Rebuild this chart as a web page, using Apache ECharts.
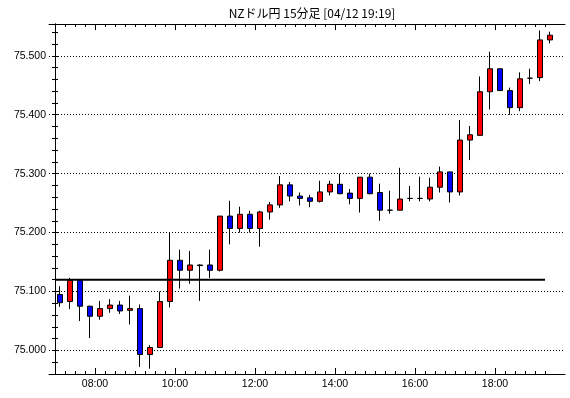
<!DOCTYPE html>
<html>
<head>
<meta charset="utf-8">
<script src="https://cdn.jsdelivr.net/npm/echarts@6/dist/echarts.min.js"></script>
<style>
html, body { margin: 0; padding: 0; background: #fff; }
#chart { width: 570px; height: 398px; }
</style>
</head>
<body>
<div id="chart"></div>
<script>
// NZドル円 15分足
var times = ['07:00','07:15','07:30','07:45','08:00','08:15','08:30','08:45','09:00','09:15',
  '09:30','09:45','10:00','10:15','10:30','10:45','11:00','11:15','11:30','11:45',
  '12:00','12:15','12:30','12:45','13:00','13:15','13:30','13:45','14:00','14:15',
  '14:30','14:45','15:00','15:15','15:30','15:45','16:00','16:15','16:30','16:45',
  '17:00','17:15','17:30','17:45','18:00','18:15','18:30','18:45','19:00','19:15']
var opens = [75.095,75.083,75.119,75.075,75.058,75.071,75.077,75.068,75.071,74.993,
  75.005,75.083,75.153,75.136,75.145,75.145,75.136,75.228,75.207,75.231,
  75.207,75.235,75.247,75.281,75.262,75.259,75.253,75.269,75.282,75.267,
  75.258,75.294,75.268,75.238,75.238,75.258,75.258,75.257,75.277,75.303,
  75.269,75.357,75.365,75.439,75.478,75.441,75.412,75.462,75.463,75.527]
var closes = [75.081,75.119,75.075,75.058,75.071,75.077,75.067,75.071,74.993,75.005,
  75.083,75.153,75.136,75.145,75.144,75.136,75.228,75.207,75.231,75.207,
  75.235,75.247,75.281,75.262,75.258,75.253,75.269,75.282,75.266,75.258,
  75.294,75.266,75.238,75.238,75.257,75.258,75.258,75.277,75.303,75.269,
  75.357,75.366,75.439,75.478,75.441,75.412,75.461,75.462,75.527,75.535]
var lows = [75.074,75.070,75.050,75.021,75.052,75.064,75.062,75.044,74.972,74.969,
  75.005,75.073,75.105,75.113,75.084,75.123,75.134,75.180,75.200,75.200,
  75.176,75.222,75.242,75.253,75.246,75.243,75.251,75.263,75.265,75.248,
  75.234,75.265,75.220,75.232,75.238,75.253,75.253,75.253,75.268,75.251,
  75.263,75.323,75.364,75.409,75.441,75.400,75.406,75.452,75.457,75.521]
var highs = [75.109,75.123,75.120,75.076,75.084,75.087,75.084,75.093,75.078,75.009,
  75.100,75.200,75.171,75.169,75.146,75.171,75.228,75.254,75.244,75.237,
  75.237,75.252,75.296,75.286,75.268,75.264,75.288,75.288,75.300,75.274,
  75.294,75.300,75.283,75.271,75.310,75.279,75.295,75.293,75.312,75.303,
  75.391,75.381,75.465,75.507,75.478,75.446,75.472,75.478,75.543,75.541]
var refLevel = 75.12
var xLabels = ['08:00','10:00','12:00','14:00','16:00','18:00']
var yLabels = [75.0, 75.1, 75.2, 75.3, 75.4, 75.5]

var xMin = -0.6, xMax = 51
var yMin = 74.96, yMax = 75.554

// candle i spans [i, i+1] on the x value axis
var candles = times.map(function (t, i) {
  return [i + 0.5, opens[i], closes[i], lows[i], highs[i]]
})
var edgeTicks = times.map(function (t, i) { return i })
var labelPos = xLabels.map(function (s) { return times.indexOf(s) })
var yTicks = []
for (var v = 74.98; v < yMax; v += 0.02) yTicks.push(Math.round(v * 1000) / 1000)

var font = 'Liberation Sans, Arial, sans-serif'

function xAxisDef (position, ticks, len, showLine, labels) {
  return {
    type: 'value', position: position, min: xMin, max: xMax,
    axisLine: { show: showLine, lineStyle: { color: '#000', width: 1 } },
    axisTick: { show: true, inside: true, length: len, customValues: ticks, lineStyle: { color: '#000' } },
    axisLabel: labels ? {
      show: true, customValues: labelPos, margin: 5, color: '#000', fontSize: 10.5, fontFamily: font,
      formatter: function (val) { return times[Math.round(val)] }
    } : { show: false },
    splitLine: { show: false }
  }
}

function yAxisDef (position, ticks, opts) {
  return {
    type: 'value', position: position, min: yMin, max: yMax,
    axisLine: { show: opts.line, lineStyle: { color: '#000', width: 1 } },
    axisTick: { show: opts.tick, inside: true, length: 3, customValues: ticks, lineStyle: { color: '#000' } },
    axisLabel: opts.labels ? {
      show: true, customValues: yLabels, margin: 3, color: '#000', fontSize: 10.5, fontFamily: font,
      formatter: function (val) { return val.toFixed(3) }
    } : { show: false },
    splitLine: opts.grid ? { show: true, lineStyle: { color: '#000', type: [1, 2], width: 1 } } : { show: false }
  }
}

var chart = echarts.init(document.getElementById('chart'), null, { renderer: 'canvas' })
chart.setOption({
  animation: false,
  backgroundColor: '#fff',
  title: {
    text: 'NZドル円 15分足 [04/12 19:19]',
    left: 307, top: 2, textAlign: 'center',
    textStyle: { color: '#000', fontSize: 12, fontWeight: 'normal', fontFamily: 'Noto Sans CJK JP, sans-serif' }
  },
  grid: { left: 49, right: 5, top: 24, bottom: 24, containLabel: false },
  xAxis: [
    xAxisDef('bottom', edgeTicks, 3, true, true),
    xAxisDef('bottom', labelPos, 6, false, false),
    xAxisDef('top', edgeTicks, 3, true, false),
    xAxisDef('top', labelPos, 6, false, false)
  ],
  yAxis: [
    yAxisDef('left', yTicks, { line: true, tick: true, labels: true, grid: false }),
    yAxisDef('right', yTicks, { line: true, tick: true, labels: false, grid: false }),
    yAxisDef('left', yLabels, { line: false, tick: false, labels: false, grid: true })
  ],
  series: [
    {
      type: 'candlestick',
      xAxisIndex: 0, yAxisIndex: 0,
      data: candles,
      encode: { x: 0, y: [1, 2, 3, 4] },
      barWidth: 6,
      itemStyle: {
        color: '#ff0000', color0: '#0000ff',
        borderColor: '#000', borderColor0: '#000', borderColorDoji: '#000',
        borderWidth: 1
      },
      z: 2
    },
    {
      type: 'line',
      xAxisIndex: 0, yAxisIndex: 0,
      data: [[0, refLevel], [times.length - 1, refLevel]],
      symbol: 'none',
      lineStyle: { color: '#000', width: 2 },
      z: 3
    }
  ]
})
</script>
</body>
</html>
